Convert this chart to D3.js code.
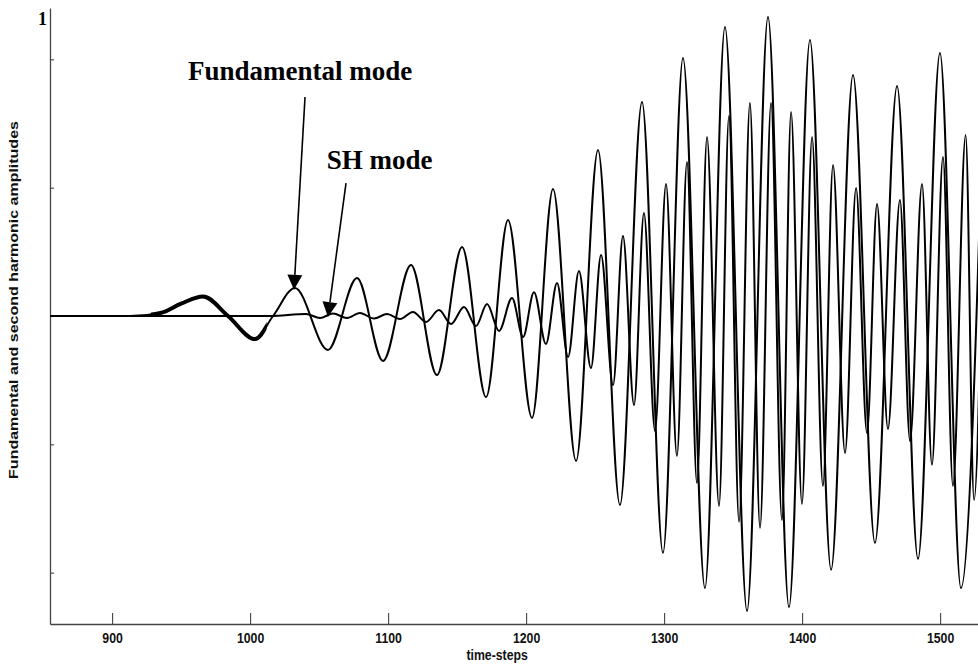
<!DOCTYPE html>
<html>
<head>
<meta charset="utf-8">
<script src="https://cdn.jsdelivr.net/npm/d3@7"></script>
<style>
  html, body { margin: 0; padding: 0; background: #fff; }
  svg { display: block; }
</style>
</head>
<body>
<svg id="chart" width="978" height="669"></svg>
<script>
// Fundamental mode amplitude: time-step and amplitude at each turning point
const fundSteps = [855, 913, 935, 950, 965.9, 984, 1003.6, 1016.6, 1032.5, 1056.4, 1077.5,
  1096.3, 1116.6, 1135.4, 1153.6, 1171.0, 1186.9, 1204.3, 1219.5, 1236.2, 1252.1, 1268.0,
  1284.0, 1299.2, 1313.7, 1329.6, 1344.1, 1360.1, 1375.3, 1390.5, 1405.7, 1421.0, 1436.9,
  1452.8, 1468.8, 1484.0, 1499.9, 1515.1, 1532];
const fundAmps = [0, 0, 0.012, 0.048, 0.076, 0, -0.090, 0, 0.109, -0.132, 0.148,
  -0.175, 0.199, -0.230, 0.269, -0.316, 0.374, -0.397, 0.495, -0.565, 0.647, -0.736,
  0.834, -0.923, 1.005, -1.060, 1.126, -1.149, 1.165, -1.134, 1.075, -0.989, 0.939,
  -0.884, 0.896, -0.947, 1.025, -1.060, 0.97];

// Second harmonic (SH) mode amplitude
const shSteps = [855, 1014.4, 1040.5, 1050.7, 1060.1, 1070.2, 1079.6, 1089.8, 1099.2, 1108.6,
  1118.0, 1127.5, 1136.9, 1145.6, 1155.0, 1163.7, 1171.7, 1180.4, 1189.8, 1197.8, 1205.7,
  1214.4, 1222.4, 1230.4, 1238.3, 1247.0, 1254.3, 1263.0, 1270.2, 1278.2, 1285.4, 1293.4,
  1301.4, 1309.3, 1316.6, 1323.8, 1331.1, 1339.8, 1347.0, 1354.3, 1362.2, 1369.5, 1377.5,
  1385.4, 1392.0, 1399.9, 1407.2, 1415.1, 1422.4, 1431.1, 1439.1, 1447.0, 1454.3, 1462.2,
  1470.9, 1478.2, 1486.9, 1494.1, 1502.1, 1509.3, 1518.5, 1524.6, 1532];
const shAmps = [0, 0, 0.008, -0.008, 0.010, -0.008, 0.012, -0.010, 0.008, -0.012,
  0.016, -0.023, 0.023, -0.031, 0.035, -0.039, 0.047, -0.058, 0.070, -0.082, 0.093,
  -0.109, 0.129, -0.160, 0.175, -0.203, 0.238, -0.269, 0.312, -0.347, 0.401, -0.448,
  0.514, -0.545, 0.600, -0.651, 0.697, -0.740, 0.779, -0.802, 0.830, -0.825, 0.830,
  -0.795, 0.795, -0.732, 0.697, -0.662, 0.588, -0.534, 0.499, -0.456, 0.436, -0.440,
  0.452, -0.487, 0.514, -0.580, 0.619, -0.662, 0.705, -0.717, 0.72];

// Axis ticks
const xTicks = [900, 1000, 1100, 1200, 1300, 1400, 1500];
const yTicks = [-1, -0.5, 0, 0.5, 1];

// Annotation labels with arrow start / tip in data units
const annoLabels = ["Fundamental mode", "SH mode"];
const annoTextPos = [[1036.2, 0.919], [1093.8, 0.573]];
const annoArrowFrom = [[1039.8, 0.853], [1069.5, 0.518]];
const annoArrowTo = [[1031.8, 0.102], [1056.4, -0.004]];

const svg = d3.select("#chart");

const x = d3.scaleLinear().domain([855, 1530]).range([50, 50 + 675 * 1.38]);
const y = d3.scaleLinear().domain([-1.2, 1.2]).range([624, 8]);

const axisColor = "#444";

// x axis (ticks point inward)
const gx = svg.append("g")
  .attr("transform", "translate(0,624)")
  .call(d3.axisBottom(x).tickValues(xTicks).tickSizeInner(-11).tickSizeOuter(0).tickFormat(d3.format("d")));
gx.select(".domain").attr("stroke", axisColor).attr("stroke-width", 1.3);
gx.selectAll(".tick line").attr("stroke", axisColor).attr("stroke-width", 1.1);
gx.selectAll(".tick text")
  .attr("y", 18.7).attr("dy", null)
  .attr("fill", "#111")
  .attr("font-family", "'Liberation Sans', Arial, sans-serif")
  .attr("font-weight", "bold")
  .attr("font-size", 15)
  .attr("transform", "scale(0.82,1)");

// y axis (unlabelled ticks)
const gy = svg.append("g")
  .attr("transform", "translate(50,0)")
  .call(d3.axisLeft(y).tickValues(yTicks).tickSizeInner(-4).tickSizeOuter(0).tickFormat(""));
gy.select(".domain").attr("stroke", axisColor).attr("stroke-width", 1.3);
gy.selectAll(".tick line").attr("stroke", axisColor).attr("stroke-width", 1.1);

// Axis titles
svg.append("text")
  .attr("transform", `translate(${x(1179)},660) scale(0.82,1)`)
  .attr("text-anchor", "middle")
  .attr("font-family", "'Liberation Sans', Arial, sans-serif")
  .attr("font-weight", "bold")
  .attr("font-size", 15)
  .attr("fill", "#111")
  .text("time-steps");

svg.append("text")
  .attr("transform", "translate(18,300) scale(0.85,1) rotate(-90)")
  .attr("text-anchor", "middle")
  .attr("font-family", "'Liberation Sans', Arial, sans-serif")
  .attr("font-weight", "bold")
  .attr("font-size", 16)
  .attr("fill", "#111")
  .text("Fundamental and second harmonic amplitudes");

svg.append("text")
  .attr("x", 47).attr("y", 25)
  .attr("text-anchor", "end")
  .attr("font-family", "'Liberation Serif', 'Times New Roman', serif")
  .attr("font-weight", "bold")
  .attr("font-size", 18)
  .text("1");

// Series
const line = d3.line()
  .x(d => x(d[0]))
  .y(d => y(d[1]))
  .curve(d3.curveMonotoneX);

const fundData = fundSteps.map((t, i) => [t, fundAmps[i]]);
const shData = shSteps.map((t, i) => [t, shAmps[i]]);

svg.append("path").datum(shData)
  .attr("d", line).attr("fill", "none").attr("stroke", "#000").attr("stroke-width", 2)
  .attr("stroke-linejoin", "round");
svg.append("path").datum(fundData)
  .attr("d", line).attr("fill", "none").attr("stroke", "#000").attr("stroke-width", 2)
  .attr("stroke-linejoin", "round");

// Early part of the fundamental carries a fine numerical ripple: drawn as a heavier stroke
const defs = svg.append("defs");
defs.append("clipPath").attr("id", "ripple")
  .append("rect")
  .attr("x", x(928)).attr("width", x(1012) - x(928))
  .attr("y", 0).attr("height", 669);
svg.append("path").datum(fundData)
  .attr("d", line).attr("fill", "none").attr("stroke", "#000").attr("stroke-width", 4)
  .attr("clip-path", "url(#ripple)");

// Annotations
const annoFont = "'Liberation Serif', 'Times New Roman', serif";
annoLabels.forEach((label, i) => {
  svg.append("text")
    .attr("x", x(annoTextPos[i][0])).attr("y", y(annoTextPos[i][1]))
    .attr("text-anchor", "middle")
    .attr("font-family", annoFont)
    .attr("font-weight", "bold")
    .attr("font-size", 27)
    .text(label);

  const x0 = x(annoArrowFrom[i][0]), y0 = y(annoArrowFrom[i][1]);
  const x1 = x(annoArrowTo[i][0]), y1 = y(annoArrowTo[i][1]);
  const len = Math.hypot(x1 - x0, y1 - y0);
  const ux = (x1 - x0) / len, uy = (y1 - y0) / len;
  const headL = 15, headW = 7.5;
  const bx = x1 - ux * headL, by = y1 - uy * headL;
  svg.append("line")
    .attr("x1", x0).attr("y1", y0).attr("x2", bx).attr("y2", by)
    .attr("stroke", "#000").attr("stroke-width", 1.6);
  svg.append("path")
    .attr("d", `M${x1},${y1}L${bx - uy * headW},${by + ux * headW}L${bx + uy * headW},${by - ux * headW}Z`)
    .attr("fill", "#000");
});
</script>
</body>
</html>
